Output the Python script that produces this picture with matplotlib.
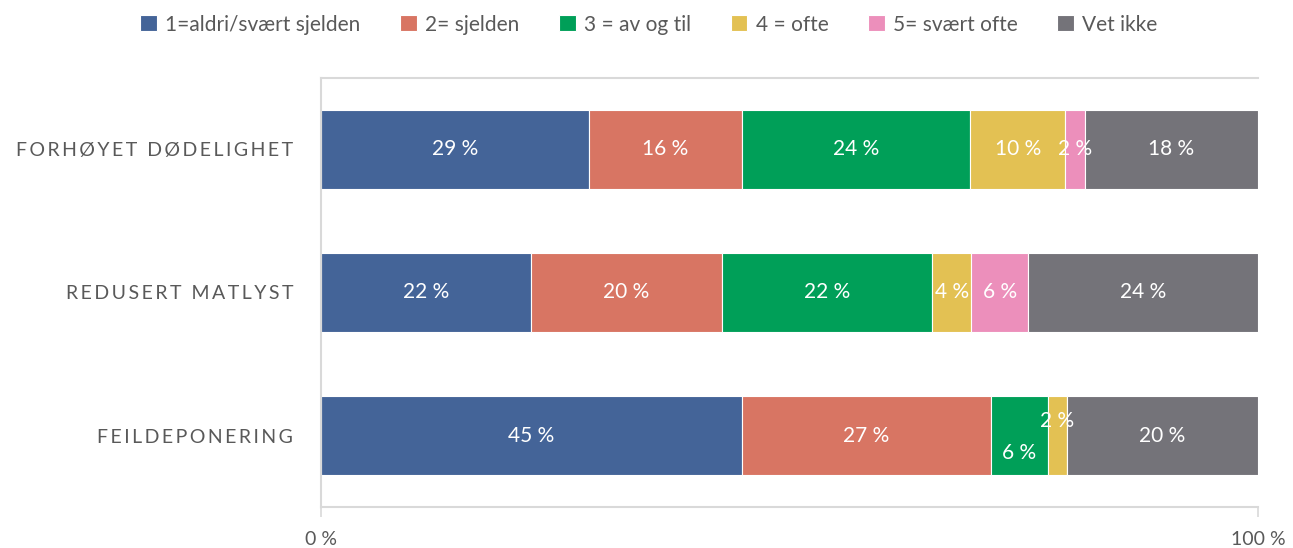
import numpy as np
import matplotlib.pyplot as plt

plt.rcParams['font.family'] = ['Lato', 'DejaVu Sans']

categories = ['FORHØYET DØDELIGHET', 'REDUSERT MATLYST', 'FEILDEPONERING']
series = ['1=aldri/svært sjelden', '2= sjelden', '3 = av og til',
          '4 = ofte', '5= svært ofte', 'Vet ikke']
# share (%) per answer, one list per category
forhoyet = [28.6, 16.3, 24.4, 10.1, 2.1, 18.5]
redusert = [22.4, 20.4, 22.4, 4.2, 6.1, 24.5]
feildep = [44.9, 26.6, 6.1, 2.0, 0.0, 20.4]
colors = ['#446498', '#D87563', '#009F58', '#E3C153', '#EC8FBB', '#747379']

data = np.array([forhoyet, redusert, feildep])
txt = '#595959'

fig = plt.figure(figsize=(12.93, 5.48), dpi=100)
ax = fig.add_axes([0.2483, 0.0748, 0.9729 - 0.2483, 0.8577 - 0.0748])

y = np.arange(len(categories))
left = np.zeros(len(categories))
for j, name in enumerate(series):
    vals = data[:, j]
    ax.barh(y, vals, left=left, height=0.55, color=colors[j],
            edgecolor='white', linewidth=0.8, label=name)
    for i, v in enumerate(vals):
        if v <= 0:
            continue
        dy = 0
        # small segments in the last row get their labels nudged apart
        if i == 2 and j == 2:
            dy = 0.125
        elif i == 2 and j == 3:
            dy = -0.1
        ax.text(left[i] + v / 2, y[i] + dy, f'{v:.0f} %', ha='center',
                va='center', color='white', fontsize=15)
    left += vals

ax.set_xlim(0, 100)
ax.set_ylim(2.5, -0.5)
ax.set_xticks([0, 100])
ax.set_xticklabels(['0 %', '100 %'], fontsize=14, color=txt)
ax.tick_params(axis='x', length=7, color='#d9d9d9', width=1.2, pad=10)

spaced = ['\u2009'.join(c for c in lab) for lab in categories]
ax.set_yticks(y)
ax.set_yticklabels(spaced, fontsize=14, color=txt)
ax.tick_params(axis='y', length=0, pad=20)

for s in ['left', 'top', 'bottom']:
    ax.spines[s].set_color('#d9d9d9')
    ax.spines[s].set_linewidth(1.5)
ax.spines['right'].set_visible(False)

fig.legend(loc='center', bbox_to_anchor=(0.502, 0.955), ncol=6, frameon=False,
           fontsize=15, labelcolor=txt, handlelength=0.8, handleheight=0.8,
           handletextpad=0.4, columnspacing=1.9)

fig.savefig('out.png', dpi=100)
